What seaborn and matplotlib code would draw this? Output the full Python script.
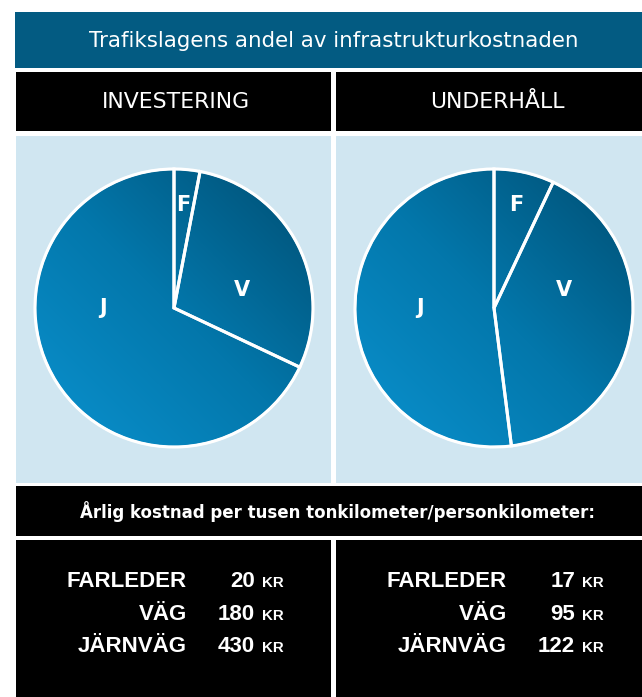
import numpy as np
import matplotlib
matplotlib.use("Agg")
import matplotlib.pyplot as plt
from matplotlib.patches import Rectangle, Circle
import seaborn as sns

# ---------------- data ----------------
title = "Trafikslagens andel av infrastrukturkostnaden"
panels = ["INVESTERING", "UNDERHÅLL"]
slice_labels = ["F", "V", "J"]
share_investering = [3, 29, 68]      # % F, V, J
share_underhall = [7, 41, 52]
subtitle = "Årlig kostnad per tusen tonkilometer/personkilometer:"
row_labels = ["FARLEDER", "VÄG", "JÄRNVÄG"]
cost_investering = [20, 180, 430]
cost_underhall = [17, 95, 122]
unit = "KR"

# ---------------- style ----------------
sns.set_theme(style="white")
plt.rcParams["font.family"] = ["DejaVu Sans"]

W, H = 642, 697
fig = plt.figure(figsize=(W / 100, H / 100), dpi=100)
fig.patch.set_facecolor("white")

bg = fig.add_axes([0, 0, 1, 1])
bg.set_xlim(0, W)
bg.set_ylim(H, 0)
bg.axis("off")

TEAL = "#035b82"
PANEL = "#d0e6f1"
BLACK = "#000000"

def box(x0, y0, x1, y1, color):
    bg.add_patch(Rectangle((x0, y0), x1 - x0, y1 - y0, facecolor=color,
                           edgecolor="none", zorder=1))

# title band
box(15, 12, W, 68, TEAL)
bg.text(334, 41, title, color="white", fontsize=15.4, ha="center", va="center", zorder=3)

# headers
cols = [(16, 331), (336, W)]
for (x0, x1), name in zip(cols, panels):
    box(x0, 72, x1, 131, BLACK)
    box(x0, 136, x1, 483, PANEL)
    box(x0, 540, x1, H, BLACK)
header_x = [176, 497]
for hx, name in zip(header_x, panels):
    bg.text(hx, 102, name, color="white", fontsize=15.8, ha="center", va="center", zorder=3)

# subtitle band
box(16, 486, W, 536, BLACK)
bg.text(337, 512, subtitle, color="white", fontsize=12, fontweight="bold",
        ha="center", va="center", zorder=3)

# tables
tfont = ["Liberation Sans", "DejaVu Sans"]
baselines = [587, 620, 652]
label_right = [187, 507]
num_right = [255, 575]
for ci, costs in enumerate([cost_investering, cost_underhall]):
    for lab, val, yb in zip(row_labels, costs, baselines):
        bg.text(label_right[ci], yb, lab, color="white", fontsize=16, fontweight="bold",
                family=tfont, ha="right", va="baseline", zorder=3)
        bg.text(num_right[ci], yb, str(val), color="white", fontsize=16, fontweight="bold",
                family=tfont, ha="right", va="baseline", zorder=3)
        bg.text(num_right[ci] + 7, yb, unit, color="white", fontsize=10.8, fontweight="bold",
                family=tfont, ha="left", va="baseline", zorder=3)

# ---------------- pies ----------------
cmap = sns.blend_palette(["#0a92cf", "#0377ab", "#004e72"], as_cmap=True)
g = np.linspace(-1, 1, 300)
xx, yy = np.meshgrid(g, g)
grad = (xx + yy + 2) / 4.0

R = 139
centers = [(174, 308), (494, 308)]
label_pos = [
    [(0.065, 0.74), (0.49, 0.13), (-0.51, 0.0)],
    [(0.16, 0.74), (0.50, 0.13), (-0.53, 0.0)],
]
pad = 1.04
for (cx, cy), shares, lpos in zip(centers, [share_investering, share_underhall], label_pos):
    half = R * pad
    ax = fig.add_axes([(cx - half) / W, 1 - (cy + half) / H, 2 * half / W, 2 * half / H])
    ax.set_xlim(-pad, pad)
    ax.set_ylim(-pad, pad)
    ax.set_aspect("equal")
    ax.axis("off")
    ax.patch.set_alpha(0)
    img = ax.imshow(grad, cmap=cmap, extent=[-1, 1, -1, 1], origin="lower",
                    interpolation="bilinear", zorder=1)
    clip = Circle((0, 0), 1, transform=ax.transData)
    img.set_clip_path(clip)
    wedges, _ = ax.pie(shares, startangle=90, counterclock=False, radius=1,
                       wedgeprops=dict(edgecolor="white", linewidth=2.2))
    for w in wedges:
        w.set_facecolor("none")
        w.set_zorder(2)
    ax.add_patch(Circle((0, 0), 1, facecolor="none", edgecolor="white", lw=1.6, zorder=3))
    ax.set_xlim(-pad, pad)
    ax.set_ylim(-pad, pad)
    for lab, (lx, ly) in zip(slice_labels, lpos):
        ax.text(lx, ly, lab, color="white", fontsize=15, fontweight="bold",
                ha="center", va="center", zorder=4)

fig.savefig("out.png", dpi=100)
